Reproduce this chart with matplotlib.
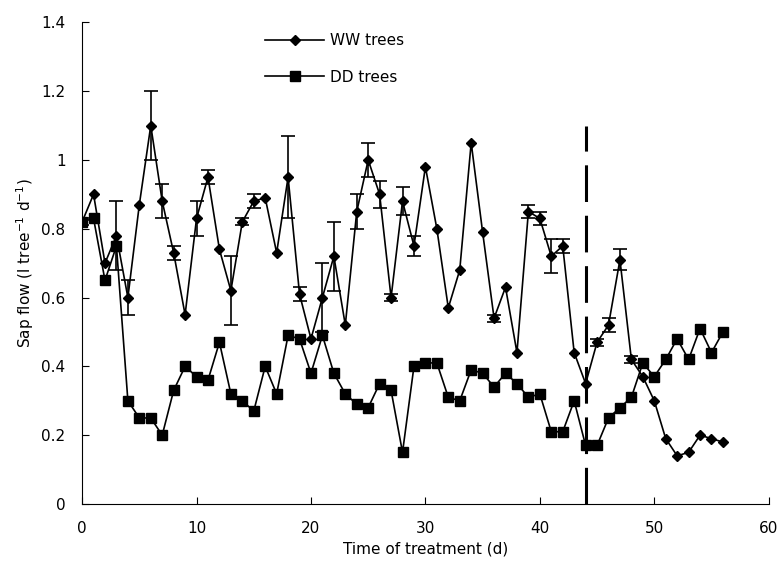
import numpy as np
import matplotlib.pyplot as plt

# days of treatment
days = list(range(0, 57))

# sap flow of well-watered trees
ww_flow = [0.82, 0.90, 0.70, 0.78, 0.60, 0.87, 1.10, 0.88, 0.73, 0.55,
           0.83, 0.95, 0.74, 0.62, 0.82, 0.88, 0.89, 0.73, 0.95, 0.61,
           0.48, 0.60, 0.72, 0.52, 0.85, 1.00, 0.90, 0.60, 0.88, 0.75,
           0.98, 0.80, 0.57, 0.68, 1.05, 0.79, 0.54, 0.63, 0.44, 0.85,
           0.83, 0.72, 0.75, 0.44, 0.35, 0.47, 0.52, 0.71, 0.42, 0.37,
           0.30, 0.19, 0.14, 0.15, 0.20, 0.19, 0.18]
ww_err = [0.01, 0.00, 0.00, 0.10, 0.05, 0.00, 0.10, 0.05, 0.02, 0.00,
          0.05, 0.02, 0.00, 0.10, 0.01, 0.02, 0.00, 0.00, 0.12, 0.02,
          0.00, 0.10, 0.10, 0.00, 0.05, 0.05, 0.04, 0.01, 0.04, 0.03,
          0.00, 0.00, 0.00, 0.00, 0.00, 0.00, 0.01, 0.00, 0.00, 0.02,
          0.02, 0.05, 0.02, 0.00, 0.00, 0.01, 0.02, 0.03, 0.01, 0.00,
          0.00, 0.00, 0.00, 0.00, 0.00, 0.00, 0.00]

# sap flow of drought trees
dd_flow = [0.82, 0.83, 0.65, 0.75, 0.30, 0.25, 0.25, 0.20, 0.33, 0.40,
           0.37, 0.36, 0.47, 0.32, 0.30, 0.27, 0.40, 0.32, 0.49, 0.48,
           0.38, 0.49, 0.38, 0.32, 0.29, 0.28, 0.35, 0.33, 0.15, 0.40,
           0.41, 0.41, 0.31, 0.30, 0.39, 0.38, 0.34, 0.38, 0.35, 0.31,
           0.32, 0.21, 0.21, 0.30, 0.17, 0.17, 0.25, 0.28, 0.31, 0.41,
           0.37, 0.42, 0.48, 0.42, 0.51, 0.44, 0.50]

rewater_day = 44

plt.rcParams['font.family'] = ['DejaVu Sans']

fig = plt.figure(figsize=(7.82, 5.68), dpi=100)
ax = fig.add_axes([0.105, 0.1127, 0.878, 0.848])

# only draw error bars where there is an error value
x = np.array(days)
y = np.array(ww_flow)
e = np.array(ww_err)
has_err = e > 0
ax.errorbar(x[has_err], y[has_err], yerr=e[has_err], fmt='none',
            ecolor='black', capsize=5, elinewidth=1.2, capthick=1.2)

ax.plot(days, ww_flow, color='black', marker='D', markersize=5.5,
        linewidth=1.2, label='WW trees')
ax.plot(days, dd_flow, color='black', marker='s', markersize=7,
        linewidth=1.2, label='DD trees')

# re-watering line
ax.plot([rewater_day, rewater_day], [0, 1.1], color='black',
        linestyle=(0, (12, 4.5)), linewidth=2.2)

ax.set_xlim(0, 60)
ax.set_ylim(0, 1.4)
ax.set_xticks([0, 10, 20, 30, 40, 50, 60])
ax.set_yticks([0, 0.2, 0.4, 0.6, 0.8, 1.0, 1.2, 1.4])
ax.set_yticklabels(['0', '0.2', '0.4', '0.6', '0.8', '1', '1.2', '1.4'])
ax.tick_params(direction='in', length=5, labelsize=11, pad=12)
ax.spines['top'].set_visible(False)
ax.spines['right'].set_visible(False)

ax.set_xlabel('Time of treatment (d)', fontsize=11)
ax.set_ylabel('Sap flow (l tree$^{-1}$ d$^{-1}$)', fontsize=11)

ax.legend(loc='upper left', bbox_to_anchor=(0.266, 0.977), frameon=False,
          handlelength=3.9, labelspacing=1.4, fontsize=11,
          handletextpad=0.4, borderpad=0, borderaxespad=0)

fig.savefig('out.png', dpi=100)
